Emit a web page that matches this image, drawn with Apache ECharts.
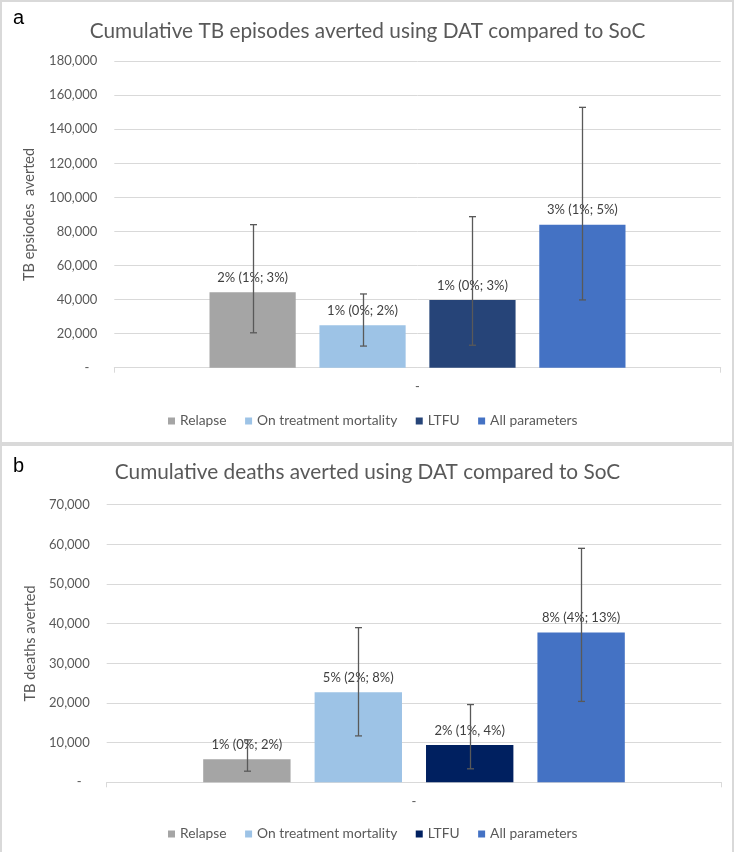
<!DOCTYPE html>
<html>
<head>
<meta charset="utf-8">
<script src="https://cdn.jsdelivr.net/npm/echarts@6/dist/echarts.min.js"></script>
<style>
html,body{margin:0;padding:0;background:#fff;}
#chart{width:735px;height:852px;}
</style>
</head>
<body>
<div id="chart"></div>
<script>
// ---------- data ----------
const categories = ['-'];
const seriesNames = ['Relapse', 'On treatment mortality', 'LTFU', 'All parameters'];

// Panel a: cumulative TB episodes averted
const titleA = 'Cumulative TB episodes averted using DAT compared to SoC';
const yNameA = 'TB epsiodes  averted';
const valuesA = [44300, 24900, 39800, 84000];
const lowA    = [20500, 12700, 13200, 39800];
const highA   = [84000, 43300, 88700, 152900];
const labelsA = ['2% (1%; 3%)', '1% (0%; 2%)', '1% (0%; 3%)', '3% (1%; 5%)'];
const yMaxA = 180000, yStepA = 20000;

// Panel b: cumulative deaths averted
const titleB = 'Cumulative deaths averted using DAT compared to SoC';
const yNameB = 'TB deaths averted';
const valuesB = [5800, 22700, 9400, 37800];
const lowB    = [2800, 11700, 3400, 20400];
const highB   = [10700, 39000, 19600, 59000];
const labelsB = ['1% (0%; 2%)', '5% (2%; 8%)', '2% (1%, 4%)', '8% (4%; 13%)'];
const yMaxB = 70000, yStepB = 10000;

// ---------- style ----------
const colorsA = ['#A5A5A5', '#9DC3E6', '#264478', '#4472C4'];
const colorsB = ['#A5A5A5', '#9DC3E6', '#002060', '#4472C4'];
const FONT = 'Lato, "Noto Sans", sans-serif';
const TXT = '#595959';
const GRIDC = '#D9D9D9';
const CAT_GAP = 0.314, BAR_GAP = 0.275;

function fmt(v) {
  if (v === 0) return '{d|-}';
  return v.toLocaleString('en-US');
}

function makeBars(values, labels, colors, idx) {
  return seriesNames.map((name, i) => ({
    name: name,
    type: 'bar',
    xAxisIndex: idx, yAxisIndex: idx,
    data: [values[i]],
    barCategoryGap: (CAT_GAP * 100) + '%',
    barGap: (BAR_GAP * 100) + '%',
    itemStyle: { color: colors[i] },
    label: {
      show: true, position: 'top', distance: 8,
      formatter: () => labels[i],
      fontFamily: FONT, fontSize: 13, color: '#404040'
    },
    emphasis: { disabled: true },
    z: 2
  }));
}

function makeErr(low, high, idx) {
  const data = seriesNames.map((n, i) => [0, low[i], high[i], i]);
  return {
    type: 'custom',
    xAxisIndex: idx, yAxisIndex: idx,
    data: data,
    encode: { x: 0, y: [1, 2] },
    z: 5,
    silent: true,
    renderItem: function (params, api) {
      const i = api.value(3);
      const lo = api.coord([api.value(0), api.value(1)]);
      const hi = api.coord([api.value(0), api.value(2)]);
      const band = api.size([1, 0])[0];
      const usable = band * (1 - CAT_GAP);
      const N = seriesNames.length;
      const bw = usable / (N + (N - 1) * BAR_GAP);
      const start = lo[0] - usable / 2;
      const x = Math.round(start + i * bw * (1 + BAR_GAP) + bw / 2) + 0.5;
      const cap = 3.5;
      const st = { stroke: '#595959', lineWidth: 1.3 };
      return {
        type: 'group',
        children: [
          { type: 'line', shape: { x1: x, y1: lo[1], x2: x, y2: hi[1] }, style: st },
          { type: 'line', shape: { x1: x - cap, y1: lo[1], x2: x + cap, y2: lo[1] }, style: st },
          { type: 'line', shape: { x1: x - cap, y1: hi[1], x2: x + cap, y2: hi[1] }, style: st }
        ]
      };
    }
  };
}

function yAxis(idx, max, step, name, gap) {
  return {
    type: 'value', gridIndex: idx, min: 0, max: max, interval: step,
    name: name, nameLocation: 'middle', nameGap: gap,
    nameTextStyle: { fontFamily: FONT, fontSize: 14.5, color: TXT },
    axisLine: { show: false }, axisTick: { show: false },
    splitLine: { lineStyle: { color: GRIDC, width: 1 } },
    axisLabel: {
      formatter: fmt, margin: 17, fontFamily: FONT, fontSize: 13, color: TXT,
      rich: { d: { fontFamily: FONT, fontSize: 13, color: TXT, padding: [0, 8, 0, 0] } }
    }
  };
}

function xAxis(idx) {
  return {
    type: 'category', gridIndex: idx, data: categories,
    axisLine: { lineStyle: { color: GRIDC, width: 1 } },
    axisTick: { show: true, length: 5, lineStyle: { color: GRIDC } },
    axisLabel: { margin: 13, fontFamily: FONT, fontSize: 13, color: TXT }
  };
}

function legend(idx, top, colors) {
  return {
    top: top, left: 168, padding: 0,
    itemWidth: 7, itemHeight: 7, itemGap: 18.5, icon: 'rect',
    textStyle: { fontFamily: FONT, fontSize: 13.8, color: TXT },
    data: seriesNames.map((n, i) => ({ name: n, itemStyle: { color: colors[i] } })),
    selectedMode: false
  };
}

const chart = echarts.init(document.getElementById('chart'), null, { renderer: 'canvas' });
const option = {
  animation: false,
  backgroundColor: '#fff',
  title: [
    { text: titleA, left: 'center', top: 16, textStyle: { fontFamily: FONT, fontSize: 20.8, fontWeight: 'normal', color: TXT } },
    { text: titleB, left: 'center', top: 457, textStyle: { fontFamily: FONT, fontSize: 20.8, fontWeight: 'normal', color: TXT } }
  ],
  grid: [
    { left: 114.3, right: 14.3, top: 61.2, height: 306.5, containLabel: false },
    { left: 106.7, right: 13.7, top: 504.7, height: 277.6, containLabel: false }
  ],
  xAxis: [xAxis(0), xAxis(1)],
  yAxis: [yAxis(0, yMaxA, yStepA, yNameA, 77), yAxis(1, yMaxB, yStepB, yNameB, 69)],
  legend: [legend(0, 414, colorsA), legend(1, 827, colorsB)],
  series: [
    ...makeBars(valuesA, labelsA, colorsA, 0),
    makeErr(lowA, highA, 0),
    ...makeBars(valuesB, labelsB, colorsB, 1),
    makeErr(lowB, highB, 1)
  ],
  graphic: [
    { type: 'rect', shape: { x: 1, y: 1, width: 732, height: 442 }, style: { fill: null, stroke: GRIDC, lineWidth: 2 }, z: -1 },
    { type: 'rect', shape: { x: 1, y: 445, width: 732, height: 420 }, style: { fill: null, stroke: GRIDC, lineWidth: 2 }, z: -1 },
    { type: 'text', left: 13, top: 8, style: { text: 'a', font: '20px "Liberation Sans", Arial, sans-serif', fill: '#000' } },
    { type: 'text', left: 13, top: 456, style: { text: 'b', font: '20px "Liberation Sans", Arial, sans-serif', fill: '#000' } }
  ]
};
chart.setOption(option);
</script>
</body>
</html>
